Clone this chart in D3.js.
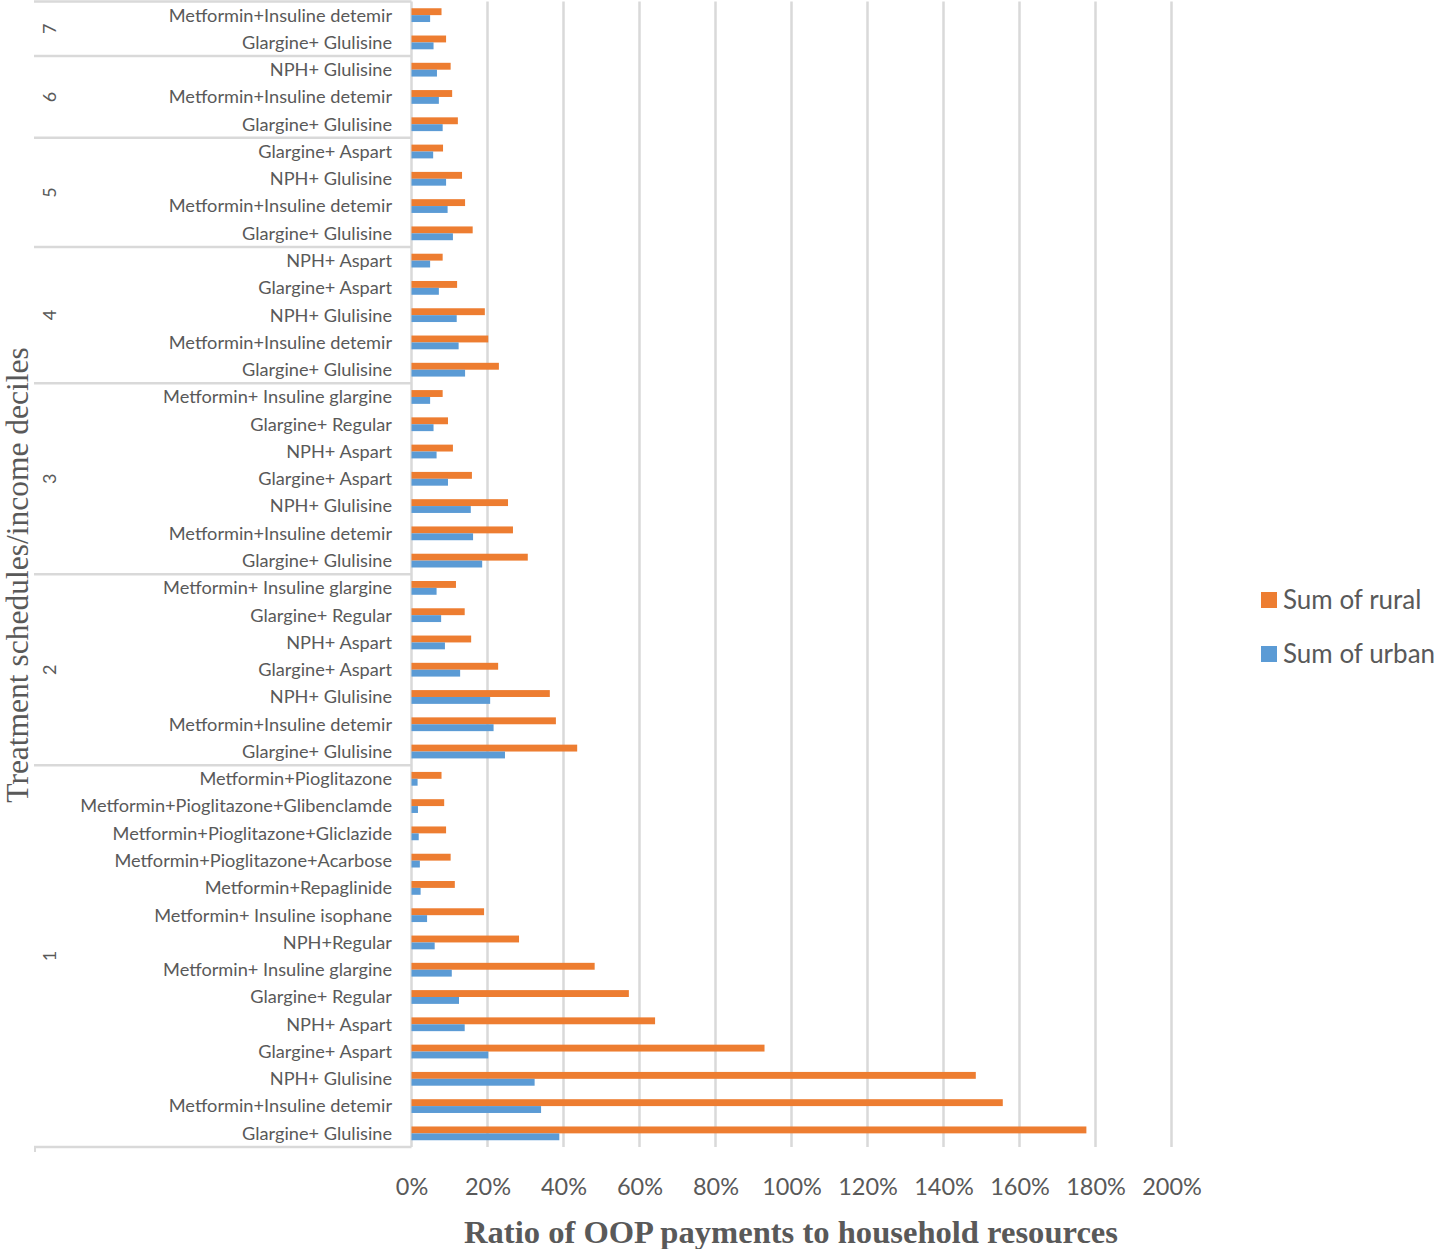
<!DOCTYPE html>
<html>
<head>
<meta charset="utf-8">
<script src="https://cdn.jsdelivr.net/npm/d3@7"></script>
<style>
  html, body { margin: 0; padding: 0; background: #fff; }
  svg { display: block; }
</style>
</head>
<body>
<svg id="chart" width="1441" height="1249"></svg>
<script>
// ---- data (bottom-to-top order, as in the source table) ----
const groups = ["1","2","3","4","5","6","7"];
const groupOf = [
  "1","1","1","1","1","1","1","1","1","1","1","1","1","1",
  "2","2","2","2","2","2","2",
  "3","3","3","3","3","3","3",
  "4","4","4","4","4",
  "5","5","5","5",
  "6","6","6",
  "7","7"
];
const categories = [
  "Glargine+ Glulisine","Metformin+Insuline detemir","NPH+ Glulisine","Glargine+ Aspart","NPH+ Aspart","Glargine+ Regular","Metformin+ Insuline glargine","NPH+Regular","Metformin+ Insuline isophane","Metformin+Repaglinide","Metformin+Pioglitazone+Acarbose","Metformin+Pioglitazone+Gliclazide","Metformin+Pioglitazone+Glibenclamde","Metformin+Pioglitazone",
  "Glargine+ Glulisine","Metformin+Insuline detemir","NPH+ Glulisine","Glargine+ Aspart","NPH+ Aspart","Glargine+ Regular","Metformin+ Insuline glargine",
  "Glargine+ Glulisine","Metformin+Insuline detemir","NPH+ Glulisine","Glargine+ Aspart","NPH+ Aspart","Glargine+ Regular","Metformin+ Insuline glargine",
  "Glargine+ Glulisine","Metformin+Insuline detemir","NPH+ Glulisine","Glargine+ Aspart","NPH+ Aspart",
  "Glargine+ Glulisine","Metformin+Insuline detemir","NPH+ Glulisine","Glargine+ Aspart",
  "Glargine+ Glulisine","Metformin+Insuline detemir","NPH+ Glulisine",
  "Glargine+ Glulisine","Metformin+Insuline detemir"
];
const rural = [
  1.776,1.556,1.485,0.929,0.641,0.572,0.482,0.283,0.191,0.114,0.103,0.091,0.086,0.079,
  0.436,0.380,0.364,0.228,0.157,0.140,0.117,
  0.306,0.267,0.254,0.159,0.109,0.096,0.082,
  0.230,0.202,0.193,0.120,0.082,
  0.161,0.141,0.133,0.083,
  0.122,0.107,0.103,
  0.091,0.079
];
const urban = [
  0.389,0.341,0.324,0.202,0.140,0.125,0.106,0.061,0.041,0.024,0.022,0.019,0.017,0.016,
  0.246,0.216,0.207,0.128,0.088,0.078,0.066,
  0.186,0.162,0.156,0.096,0.066,0.058,0.049,
  0.141,0.124,0.119,0.072,0.049,
  0.109,0.095,0.091,0.057,
  0.082,0.072,0.067,
  0.058,0.049
];
const seriesNames = ["Sum of rural","Sum of urban"];
const seriesKeys = ["rural","urban"];
const xTicks = [0,0.2,0.4,0.6,0.8,1.0,1.2,1.4,1.6,1.8,2.0];
const xTitle = "Ratio of OOP payments to household resources";
const yTitle = "Treatment schedules/income deciles";

// ---- build rows ----
const rows = categories.map((c, i) => ({
  key: groupOf[i] + "|" + i, name: c, group: groupOf[i], rural: rural[i], urban: urban[i]
}));

const colors = { rural: "#ED7D31", urban: "#5B9BD5" };
const textColor = "#595959";
const gridColor = "#D9D9D9";
const labelFont = "Lato, 'Open Sans', sans-serif";

const svg = d3.select("#chart");

const plotLeft = 411.5, plotRight = 1171.5, plotTop = 1.5, plotBottom = 1147;
const axisLeft = 34;

const x = d3.scaleLinear().domain([0, 2]).range([plotLeft, plotRight]);
const y = d3.scaleBand()
  .domain(rows.map(r => r.key).reverse())
  .range([plotTop, plotBottom])
  .paddingInner(0).paddingOuter(0);
const ySub = d3.scaleBand().domain(seriesKeys).range([0, y.bandwidth()])
  .paddingInner(0).paddingOuter(0.98);

// gridlines
const grid = svg.append("g");
grid.selectAll("line").data(xTicks).join("line")
  .attr("x1", d => x(d)).attr("x2", d => x(d))
  .attr("y1", plotTop).attr("y2", plotBottom)
  .attr("stroke", gridColor).attr("stroke-width", 2.5);

// category axis structure (group separators)
const sepG = svg.append("g");
const boundaries = [plotTop];
groups.forEach(g => {
  const grpRows = rows.filter(r => r.group === g);
  const first = grpRows[0];
  boundaries.push(y(first.key) + y.bandwidth());
});
sepG.selectAll("line").data(boundaries).join("line")
  .attr("x1", axisLeft).attr("x2", plotLeft)
  .attr("y1", d => d).attr("y2", d => d)
  .attr("stroke", gridColor).attr("stroke-width", 2.5);
sepG.append("line")
  .attr("x1", axisLeft + 1).attr("x2", axisLeft + 1)
  .attr("y1", plotBottom).attr("y2", plotBottom + 5)
  .attr("stroke", gridColor).attr("stroke-width", 2);

// bars
const barsG = svg.append("g");
const rowG = barsG.selectAll("g").data(rows).join("g")
  .attr("transform", d => `translate(0,${y(d.key)})`);
rowG.selectAll("rect").data(d => seriesKeys.map(k => ({ k, v: d[k] }))).join("rect")
  .attr("x", x(0))
  .attr("y", d => ySub(d.k))
  .attr("width", d => x(d.v) - x(0))
  .attr("height", ySub.bandwidth())
  .attr("fill", d => colors[d.k]);

// category labels
svg.append("g").selectAll("text").data(rows).join("text")
  .attr("x", 392)
  .attr("y", d => y(d.key) + y.bandwidth() / 2)
  .attr("dy", "0.35em")
  .attr("text-anchor", "end")
  .attr("font-family", labelFont)
  .attr("font-size", 18.2)
  .attr("fill", textColor)
  .text(d => d.name);

// group labels
svg.append("g").selectAll("text").data(groups).join("text")
  .attr("transform", g => {
    const grpRows = rows.filter(r => r.group === g);
    const ys = grpRows.map(r => y(r.key));
    const cy = (d3.min(ys) + d3.max(ys) + y.bandwidth()) / 2;
    return `translate(50,${cy}) rotate(-90)`;
  })
  .attr("dy", "0.35em")
  .attr("text-anchor", "middle")
  .attr("font-family", labelFont)
  .attr("font-size", 18)
  .attr("fill", textColor)
  .text(g => g);

// x tick labels
const xAxis = d3.axisBottom(x).tickValues(xTicks).tickFormat(d3.format(".0%")).tickSize(0).tickPadding(0);
const xAxisG = svg.append("g").attr("transform", `translate(0,1187)`).call(xAxis);
xAxisG.select(".domain").remove();
xAxisG.selectAll("text")
  .attr("dy", "0.35em")
  .attr("y", 0)
  .attr("font-family", labelFont)
  .attr("font-size", 23.5)
  .attr("fill", textColor);

// x title
svg.append("text")
  .attr("x", 791).attr("y", 1232)
  .attr("dy", "0.35em")
  .attr("text-anchor", "middle")
  .attr("font-family", "'Liberation Serif', 'Times New Roman', serif")
  .attr("font-weight", "bold")
  .attr("font-size", 32.6)
  .attr("fill", textColor)
  .text(xTitle);

// y title
svg.append("text")
  .attr("transform", "translate(17,575) rotate(-90)")
  .attr("dy", "0.35em")
  .attr("text-anchor", "middle")
  .attr("font-family", "'Liberation Serif', 'Times New Roman', serif")
  .attr("font-size", 31.5)
  .attr("fill", textColor)
  .text(yTitle);

// legend
const legend = svg.append("g").attr("transform", "translate(1261,0)");
const legY = [600, 654];
const legItems = legend.selectAll("g").data(seriesKeys).join("g")
  .attr("transform", (d, i) => `translate(0,${legY[i]})`);
legItems.append("rect")
  .attr("x", 0).attr("y", -8).attr("width", 16).attr("height", 16)
  .attr("fill", d => colors[d]);
legItems.append("text")
  .attr("x", 22).attr("y", 0).attr("dy", "0.35em")
  .attr("font-family", labelFont)
  .attr("font-size", 26)
  .attr("fill", textColor)
  .text((d, i) => seriesNames[i]);
</script>
</body>
</html>
